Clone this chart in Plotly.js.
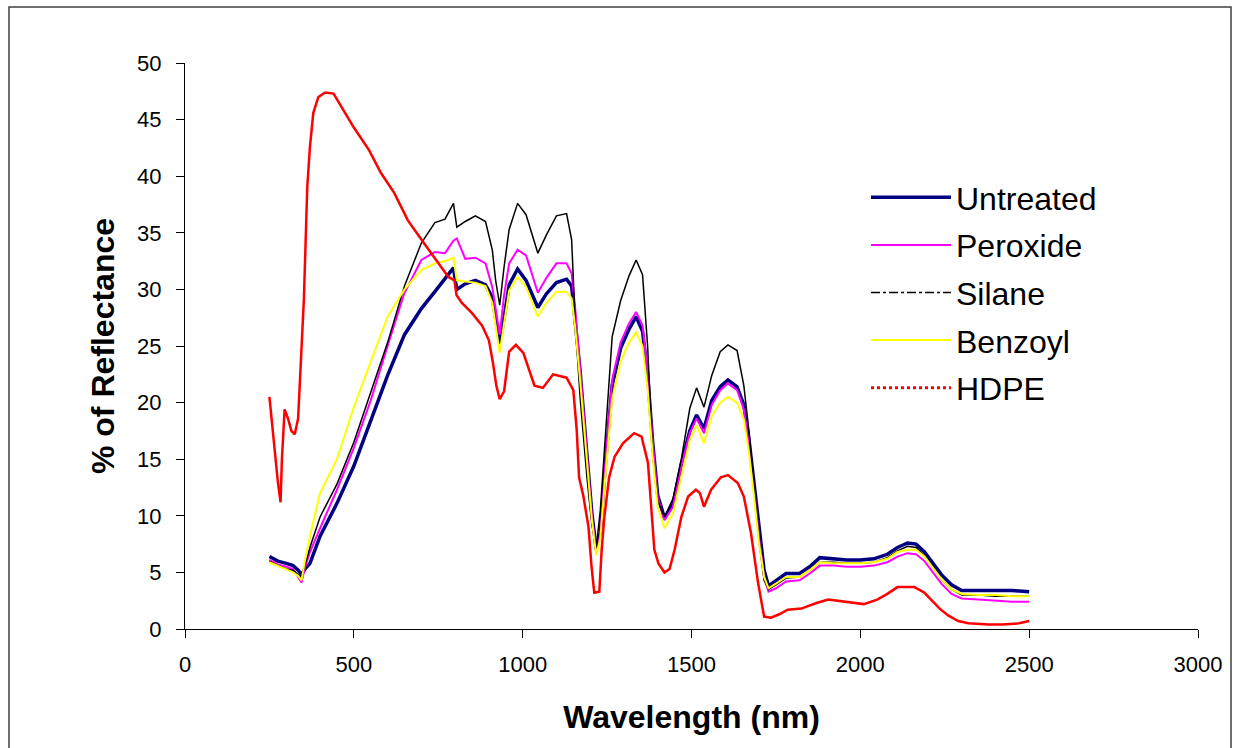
<!DOCTYPE html>
<html>
<head>
<meta charset="utf-8">
<script src="https://cdn.plot.ly/plotly-3.0.1.min.js"></script>
<style>html,body{margin:0;padding:0;background:#fff;}#chart{width:1235px;height:748px;}</style>
</head>
<body>
<div id="chart"></div>
<script>
// Wavelength grid (nm) shared by the four fibre samples
const wavelength = [250,275,300,320,335,345,355,370,400,450,500,550,600,650,700,740,770,795,805,830,860,890,910,920,932,945,960,985,1010,1045,1070,1100,1130,1145,1155,1170,1190,1205,1218,1230,1245,1265,1290,1315,1336,1355,1370,1385,1400,1420,1445,1470,1495,1515,1537,1560,1585,1608,1635,1655,1670,1685,1700,1715,1728,1750,1780,1820,1850,1880,1920,1960,2000,2040,2080,2110,2140,2165,2190,2215,2240,2270,2300,2350,2400,2450,2500];

const untreated = [6.4,6.0,5.8,5.6,5.2,4.8,5.3,5.8,8.2,11.1,14.4,18.3,22.4,26.0,28.3,29.8,31.0,31.9,30.0,30.5,30.8,30.4,29.3,27.5,25.2,27.5,30.4,31.8,30.8,28.4,29.6,30.6,30.9,30.3,27.5,22.8,15.5,10.2,7.0,8.5,14.5,21.5,24.8,26.5,27.6,26.3,22.5,16.5,11.8,9.8,11.0,14.6,17.5,18.9,17.7,20.2,21.4,22.0,21.4,19.8,16.8,12.9,8.5,5.2,3.8,4.3,4.9,4.9,5.5,6.3,6.2,6.1,6.1,6.2,6.6,7.2,7.6,7.5,6.8,5.8,4.8,3.9,3.4,3.4,3.4,3.4,3.3];

const peroxide = [6.1,5.7,5.5,5.3,4.6,4.1,5.4,6.8,8.9,12.3,16.0,20.2,25.0,29.7,32.6,33.3,33.2,34.3,34.5,32.7,32.8,32.3,30.2,28.3,26.0,29.5,32.3,33.5,33.0,29.7,31.0,32.3,32.3,31.4,28.5,23.0,15.5,10.0,6.7,8.3,14.8,22.0,25.3,27.0,28.0,26.8,22.8,16.5,11.6,9.6,10.8,14.4,17.3,18.6,17.3,19.8,21.1,21.7,21.1,19.4,16.4,12.5,8.0,4.6,3.3,3.6,4.2,4.3,4.9,5.6,5.6,5.5,5.5,5.6,5.9,6.4,6.7,6.6,6.0,5.0,4.0,3.1,2.7,2.6,2.5,2.4,2.4];

const silane = [6.0,5.6,5.3,5.2,4.8,4.5,5.6,7.2,9.9,12.8,16.5,21.0,25.3,30.3,34.1,35.9,36.2,37.6,35.5,36.0,36.5,36.0,33.5,30.8,28.6,32.0,35.3,37.6,36.6,33.2,34.8,36.5,36.7,34.4,27.5,20.5,13.5,9.2,7.2,10.5,16.8,25.8,29.0,31.2,32.6,31.3,25.0,15.5,11.3,9.9,11.5,15.0,19.5,21.3,19.6,22.4,24.5,25.1,24.6,21.5,17.5,12.9,7.8,4.3,3.5,3.9,4.5,4.6,5.2,5.9,5.9,5.8,5.8,5.9,6.3,6.9,7.3,7.2,6.5,5.5,4.4,3.5,3.0,3.0,2.9,2.9,2.9];

const benzoyl = [5.9,5.6,5.3,5.0,4.7,4.3,6.0,8.2,12.0,15.0,19.6,23.6,27.6,30.0,31.7,32.3,32.5,32.8,30.8,30.7,30.6,30.3,28.8,26.8,24.4,27.0,29.9,31.1,30.2,27.6,28.8,29.8,29.8,29.2,26.8,22.0,14.8,9.6,6.5,8.0,13.5,20.3,23.6,25.3,26.2,25.0,21.2,15.3,10.8,8.9,10.2,13.6,16.7,18.0,16.4,18.8,20.0,20.5,20.0,18.5,15.6,11.8,7.6,4.6,3.6,4.0,4.6,4.6,5.2,5.9,5.8,5.8,5.8,5.9,6.2,6.8,7.0,7.0,6.4,5.4,4.4,3.5,3.1,3.0,3.0,2.9,2.9];

// HDPE has its own wavelength sampling
const wavelengthHdpe = [250,258,265,275,283,287,295,305,315,325,335,342,348,352,357,362,370,380,395,415,440,465,500,545,580,620,660,700,730,760,780,798,804,820,850,880,900,912,922,932,945,960,980,1002,1035,1060,1090,1130,1150,1160,1167,1180,1195,1204,1212,1227,1234,1242,1256,1272,1297,1330,1352,1371,1380,1390,1402,1420,1435,1450,1470,1490,1513,1525,1537,1558,1587,1608,1637,1655,1676,1697,1715,1735,1760,1785,1825,1870,1905,1960,2010,2050,2080,2110,2160,2190,2210,2235,2260,2290,2320,2380,2420,2470,2500];
const hdpe = [20.5,18.0,15.5,13.0,11.2,15.0,19.4,18.6,17.5,17.2,18.6,22.5,26.0,29.1,34.0,39.0,42.6,45.6,47.0,47.4,47.3,46.1,44.3,42.3,40.3,38.5,36.1,34.4,33.2,32.0,31.1,30.8,29.5,28.8,27.9,26.8,25.5,23.5,21.5,20.3,21.0,24.5,25.1,24.4,21.5,21.3,22.5,22.2,21.1,17.6,13.4,11.7,9.0,5.5,3.2,3.3,7.0,9.9,13.4,15.2,16.4,17.3,17.0,14.7,11.1,7.0,5.8,5.0,5.3,7.0,9.9,11.7,12.3,12.0,10.8,12.3,13.4,13.6,12.9,11.7,8.5,4.1,1.1,1.0,1.3,1.7,1.8,2.3,2.6,2.4,2.2,2.6,3.1,3.7,3.7,3.2,2.6,1.8,1.2,0.7,0.5,0.4,0.4,0.5,0.7];

const seriesNames = ["Untreated","Peroxide","Silane","Benzoyl","HDPE"];
const xTickVals = [0,500,1000,1500,2000,2500,3000];
const yTickVals = [0,5,10,15,20,25,30,35,40,45,50];

const FONT = "Liberation Sans, Arial, sans-serif";
const styles = [
  {color:"#000080", width:3.5, dash:"solid"},
  {color:"#FF00FF", width:2,   dash:"solid"},
  {color:"#000000", width:1.5, dash:"dashdot"},
  {color:"#FFFF00", width:2,   dash:"solid"},
  {color:"#FF0000", width:2.5, dash:"dot"}
];
const xs = [wavelength, wavelength, wavelength, wavelength, wavelengthHdpe];
const ys = [untreated, peroxide, silane, benzoyl, hdpe];

const traces = [];
// Data traces (drawn in series order so later ones lie on top)
seriesNames.forEach((name, i) => {
  traces.push({
    type: "scatter", mode: "lines", name: name, x: xs[i], y: ys[i],
    line: {color: styles[i].color, width: styles[i].width, dash: "solid"},
    showlegend: false, legendgroup: name, hoverinfo: "skip"
  });
});
// Legend keys with the original line styles
seriesNames.forEach((name, i) => {
  traces.push({
    type: "scatter", mode: "lines", name: name, x: [null], y: [null],
    line: {color: styles[i].color, width: i === 4 ? 3 : styles[i].width, dash: styles[i].dash},
    showlegend: true, legendgroup: name
  });
});

const W = 1235, H = 748;
const L = 185, R = 37, T = 63, B = 119;
const pw = W - L - R, ph = H - T - B;
const layout = {
  width: W, height: H,
  margin: {l: L, r: R, t: T, b: B, pad: 0},
  paper_bgcolor: "#ffffff", plot_bgcolor: "#ffffff",
  font: {family: FONT, color: "#000000", size: 22},
  showlegend: true,
  legend: {
    x: (866 - L) / pw, y: (629 - 170) / ph, xanchor: "left", yanchor: "top",
    font: {family: FONT, size: 32, color: "#000"},
    bgcolor: "rgba(0,0,0,0)", borderwidth: 0,
    tracegroupgap: 3, itemwidth: 80, traceorder: "grouped"
  },
  xaxis: {
    range: [0, 3000], tickvals: xTickVals, ticktext: xTickVals.map(String),
    ticks: "outside", ticklen: 8, tickwidth: 1, tickcolor: "#000",
    ticklabelstandoff: 8,
    showline: true, linecolor: "#000", linewidth: 1,
    showgrid: false, zeroline: false,
    tickfont: {family: FONT, size: 22, color: "#000"},
    title: {text: "<b>Wavelength (nm)</b>", font: {family: FONT, size: 32, color: "#000"}, standoff: 29},
    automargin: false
  },
  yaxis: {
    range: [0, 50], tickvals: yTickVals, ticktext: yTickVals.map(String),
    ticks: "outside", ticklen: 8, tickwidth: 1, tickcolor: "#000",
    ticklabelstandoff: 10,
    showline: true, linecolor: "#000", linewidth: 1,
    showgrid: false, zeroline: false,
    tickfont: {family: FONT, size: 22, color: "#000"},
    title: {text: "<b>% of Reflectance</b>", font: {family: FONT, size: 32, color: "#000"}, standoff: 12},
    automargin: false
  },
  shapes: [{
    type: "rect", xref: "paper", yref: "paper", layer: "below",
    x0: (9 - L) / pw, x1: (1231 - L) / pw,
    y0: (629 - 752) / ph, y1: (629 - 7) / ph,
    line: {color: "#404040", width: 1.5}, fillcolor: "rgba(0,0,0,0)"
  }]
};

Plotly.newPlot("chart", traces, layout, {staticPlot: true, displayModeBar: false});
</script>
</body>
</html>
